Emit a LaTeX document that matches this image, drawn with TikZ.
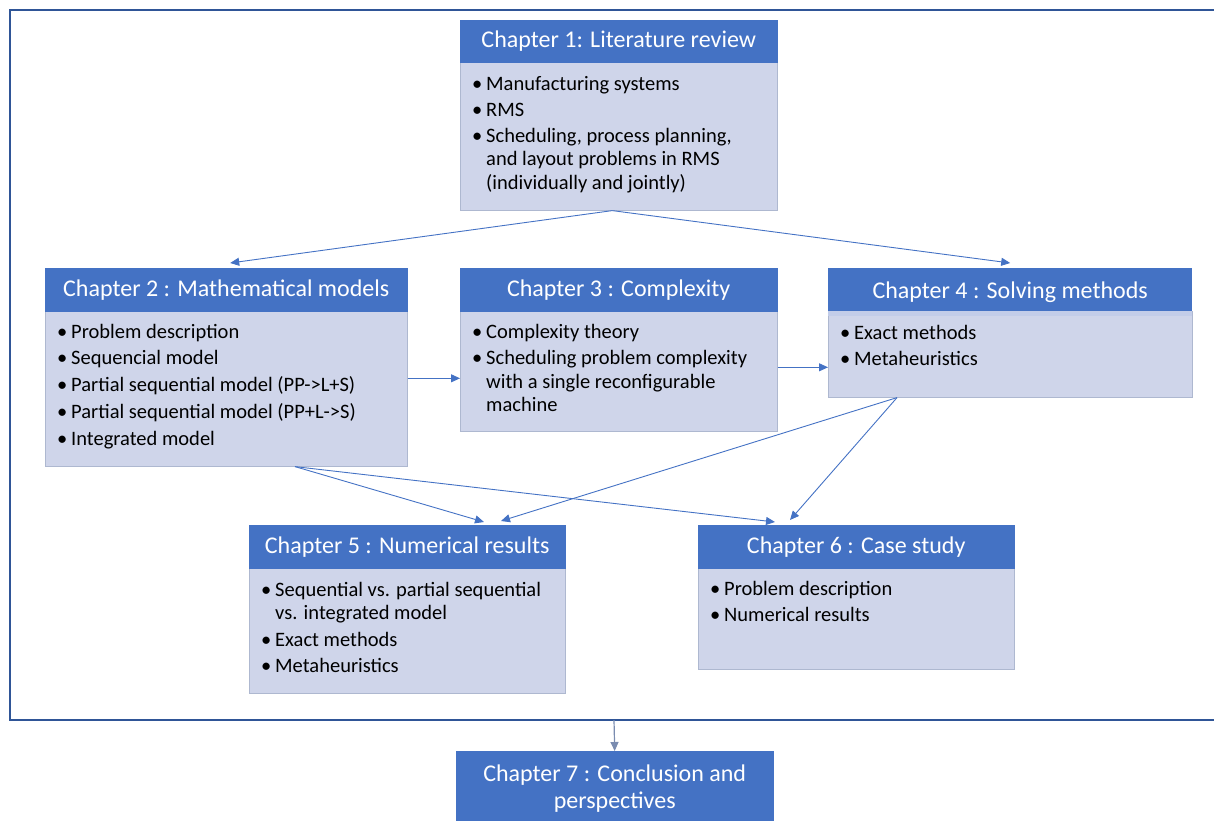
\documentclass[tikz,border=0pt]{standalone}
\usepackage{fontspec}
\setmainfont{Carlito}
\usetikzlibrary{arrows.meta}
\definecolor{hdrblue}{HTML}{4472C4}
\definecolor{bodyfill}{HTML}{CFD5EA}
\definecolor{bodyedge}{HTML}{AEB8D0}
\definecolor{stripcol}{HTML}{C3CDE9}
\definecolor{framecol}{HTML}{2F5597}
\definecolor{linkcol}{HTML}{4472C4}
\definecolor{downcol}{HTML}{7A8CB0}
% bullet and continuation indent for the chapter contents
\newcommand{\itm}{\makebox[12pt][l]{\hspace{-2pt}\textbullet}}
\newcommand{\cnt}{\hspace*{12pt}}
\newcommand{\firstline}{\rule{0pt}{16pt}}

\begin{document}
\begin{tikzpicture}[x=1pt,y=-1pt,
  hdr/.style={draw=hdrblue, fill=hdrblue, text=white,
    font=\fontsize{24}{27}\selectfont, anchor=north west,
    inner sep=0pt, align=center},
  bodybox/.style={draw=bodyedge, fill=bodyfill, anchor=north west,
    inner sep=0pt, line width=0.6pt},
  items/.style={anchor=north west, inner sep=0pt, align=left,
    font=\fontsize{20.5}{23.5}\selectfont},
  link/.style={draw=linkcol, line width=0.9pt,
    -{Triangle[length=9pt,width=8pt]}},
]
\useasboundingbox (0,0) rectangle (1214,820);

% outer frame around chapters 1 to 6
\draw[framecol, line width=1.5pt] (1220,10) -- (10,10) -- (10,720) -- (1220,720);
\coordinate (fb) at (614,720);

% Chapter 1
\node[bodybox, minimum width=317, minimum height=148] (b1) at (460,62) {};
\node[hdr, minimum width=317, minimum height=42] (h1) at (460,20) {Chapter 1: Literature review};
\node[items] (t1) at (474,74) {\itm\firstline Manufacturing systems\\[2.5pt]
  \itm RMS\\[2.5pt]
  \itm Scheduling, process planning,\\
  \cnt and layout problems in RMS\\
  \cnt (individually and jointly)};

% Chapter 2
\node[bodybox, minimum width=362, minimum height=155] (b2) at (45,311) {};
\node[hdr, minimum width=362, minimum height=43] (h2) at (45,268) {Chapter 2 : Mathematical models};
\node[items] (t2) at (59,322) {\itm\firstline Problem description\\[3.2pt]
  \itm Sequencial model\\[3.2pt]
  \itm Partial sequential model (PP->L+S)\\[3.2pt]
  \itm Partial sequential model (PP+L->S)\\[3.2pt]
  \itm Integrated model};

% Chapter 3
\node[bodybox, minimum width=317, minimum height=120] (b3) at (460,311) {};
\node[hdr, minimum width=317, minimum height=43] (h3) at (460,268) {Chapter 3 : Complexity};
\node[items] (t3) at (474,322) {\itm\firstline Complexity theory\\[3.2pt]
  \itm Scheduling problem complexity\\
  \cnt with a single reconfigurable\\
  \cnt machine};

% Chapter 4 (header with a lighter band at its foot)
\node[bodybox, minimum width=364, minimum height=86] (b4) at (828,311) {};
\node[hdr, draw=none, minimum width=364, minimum height=48] (h4) at (828,268) {Chapter 4 : Solving methods};
\fill[stripcol] ([yshift=-43]h4.north west) rectangle (h4.south east);
\node[items] (t4) at (842,323) {\itm\firstline Exact methods\\[3pt]
  \itm Metaheuristics};

% Chapter 5
\node[bodybox, minimum width=316, minimum height=125] (b5) at (249,568) {};
\node[hdr, minimum width=316, minimum height=43] (h5) at (249,525) {Chapter 5 : Numerical results};
\node[items] (t5) at (263,580) {\itm\firstline Sequential vs. partial sequential\\
  \cnt vs. integrated model\\[3pt]
  \itm Exact methods\\[3pt]
  \itm Metaheuristics};

% Chapter 6
\node[bodybox, minimum width=316, minimum height=101] (b6) at (698,568) {};
\node[hdr, minimum width=316, minimum height=43] (h6) at (698,525) {Chapter 6 : Case study};
\node[items] (t6) at (712,579) {\itm\firstline Problem description\\[3pt]
  \itm Numerical results};

% Chapter 7
\node[hdr, minimum width=317, minimum height=75] (h7) at (456,751) {Chapter 7 : Conclusion and\\perspectives};

% connectors
\draw[link] ([xshift=-6.5]b1.south) -- ([xshift=4,yshift=5]h2.north);
\draw[link] ([xshift=-6.5]b1.south) -- ([yshift=5]h4.north);
\draw[link] ([yshift=10.5]b2.east) -- ([yshift=-7]b3.west);
\draw[link] ([yshift=4]b3.east) -- ([yshift=-13]b4.west);
\draw[link] ([xshift=69]b4.south west) -- ([xshift=252,yshift=4]h5.north west);
\draw[link] ([xshift=69]b4.south west) -- ([xshift=92,yshift=5]h6.north west);
\draw[link] ([xshift=250]b2.south west) -- ([xshift=235,yshift=3]h5.north west);
\draw[link] ([xshift=250]b2.south west) -- ([xshift=77,yshift=3]h6.north west);
\draw[draw=downcol, line width=1.2pt, -{Triangle[length=9pt,width=8pt]}, color=downcol] (fb) -- (h7.north);
\end{tikzpicture}
\end{document}
